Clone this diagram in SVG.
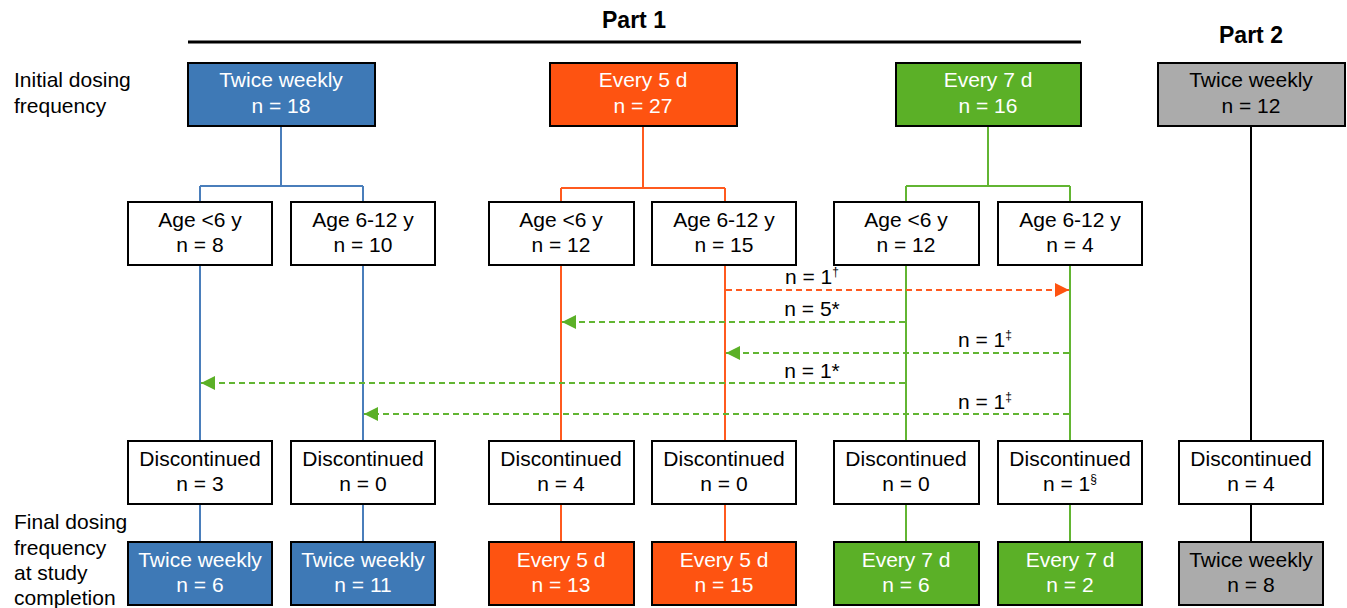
<svg xmlns="http://www.w3.org/2000/svg" width="1347" height="608" viewBox="0 0 1347 608">
<defs>
<style>
text{font-family:"Liberation Sans",Arial,sans-serif;font-size:21px;fill:#000}
.c{text-anchor:middle}
.w{fill:#fff}
.b{font-weight:bold;font-size:23px}
.box{stroke:#000;stroke-width:2}
.wb{fill:#fff}
.blue{fill:#3E79B6}
.orange{fill:#FE5311}
.green{fill:#5BB027}
.gray{fill:#ABABAB}
.lb{stroke:#4A7EBB;stroke-width:2;fill:none}
.lo{stroke:#FF5A1F;stroke-width:2;fill:none}
.lg{stroke:#62B532;stroke-width:2;fill:none}
.lk{stroke:#000;stroke-width:2;fill:none}
.do{stroke:#FF5A1F;stroke-width:2;stroke-dasharray:6 4;fill:none}
.dg{stroke:#62B532;stroke-width:2;stroke-dasharray:6 4;fill:none}
.sup{font-size:12px}
</style>
<marker id="ao" viewBox="0 0 10 10" refX="10" refY="5" markerWidth="7" markerHeight="7" orient="auto" markerUnits="strokeWidth"><path d="M0,0 L10,5 L0,10 z" fill="#FE5311"/></marker>
<marker id="ag" viewBox="0 0 10 10" refX="10" refY="5" markerWidth="7" markerHeight="7" orient="auto" markerUnits="strokeWidth"><path d="M0,0 L10,5 L0,10 z" fill="#5BB027"/></marker>
</defs>
<rect width="1347" height="608" fill="#fff"/>

<g id="headers">
<text class="c b" x="634" y="28">Part 1</text>
<line x1="188" y1="42" x2="1081" y2="42" stroke="#000" stroke-width="3"/>
<text class="c b" x="1251" y="43">Part 2</text>
<text x="14" y="87">Initial dosing</text>
<text x="14" y="113">frequency</text>
<text x="14" y="529">Final dosing</text>
<text x="14" y="555">frequency</text>
<text x="14" y="580">at study</text>
<text x="14" y="605">completion</text>
</g>

<g id="connectors">
<path class="lb" d="M281,126 V186 M200,186 H363 M200,186 V202 M363,186 V202 M200,265 V441 M363,265 V441 M200,504 V542 M363,504 V542"/>
<path class="lo" d="M643,126 V188 M561,188 H725 M561,188 V202 M725,188 V202 M561,265 V441 M725,265 V441 M561,504 V542 M725,504 V542"/>
<path class="lg" d="M988,126 V186 M906,186 H1070 M906,186 V202 M1070,186 V202 M906,265 V441 M1070,265 V441 M906,504 V542 M1070,504 V542"/>
<path class="lk" d="M1251,126 V441 M1251,504 V542"/>
<line class="do" x1="726" y1="290" x2="1069" y2="290" marker-end="url(#ao)"/>
<line class="dg" x1="905" y1="322" x2="562" y2="322" marker-end="url(#ag)"/>
<line class="dg" x1="1069" y1="353" x2="726" y2="353" marker-end="url(#ag)"/>
<line class="dg" x1="905" y1="383" x2="201" y2="383" marker-end="url(#ag)"/>
<line class="dg" x1="1069" y1="414" x2="364" y2="414" marker-end="url(#ag)"/>
<text class="c" x="812" y="284">n = 1<tspan class="sup" dy="-8">†</tspan></text>
<text class="c" x="812" y="316">n = 5*</text>
<text class="c" x="985" y="347">n = 1<tspan class="sup" dy="-8">‡</tspan></text>
<text class="c" x="812" y="378">n = 1*</text>
<text class="c" x="985" y="409">n = 1<tspan class="sup" dy="-8">‡</tspan></text>
</g>

<g id="top-tw"><rect class="box blue" x="188" y="63" width="187" height="63"/><text class="c w" x="281" y="87">Twice weekly</text><text class="c w" x="281" y="113">n = 18</text></g>
<g id="top-5d"><rect class="box orange" x="550" y="63" width="187" height="63"/><text class="c w" x="643" y="87">Every 5 d</text><text class="c w" x="643" y="113">n = 27</text></g>
<g id="top-7d"><rect class="box green" x="896" y="63" width="185" height="63"/><text class="c w" x="988" y="87">Every 7 d</text><text class="c w" x="988" y="113">n = 16</text></g>
<g id="top-p2"><rect class="box gray" x="1158" y="63" width="187" height="63"/><text class="c" x="1251" y="87">Twice weekly</text><text class="c" x="1251" y="113">n = 12</text></g>

<g id="age-b1"><rect class="box wb" x="128" y="202" width="144" height="63"/><text class="c" x="200" y="227">Age &lt;6 y</text><text class="c" x="200" y="252">n = 8</text></g>
<g id="age-b2"><rect class="box wb" x="291" y="202" width="144" height="63"/><text class="c" x="363" y="227">Age 6-12 y</text><text class="c" x="363" y="252">n = 10</text></g>
<g id="age-o1"><rect class="box wb" x="489" y="202" width="145" height="63"/><text class="c" x="561" y="227">Age &lt;6 y</text><text class="c" x="561" y="252">n = 12</text></g>
<g id="age-o2"><rect class="box wb" x="652" y="202" width="144" height="63"/><text class="c" x="724" y="227">Age 6-12 y</text><text class="c" x="724" y="252">n = 15</text></g>
<g id="age-g1"><rect class="box wb" x="834" y="202" width="145" height="63"/><text class="c" x="906" y="227">Age &lt;6 y</text><text class="c" x="906" y="252">n = 12</text></g>
<g id="age-g2"><rect class="box wb" x="998" y="202" width="144" height="63"/><text class="c" x="1070" y="227">Age 6-12 y</text><text class="c" x="1070" y="252">n = 4</text></g>

<g id="dis-b1"><rect class="box wb" x="128" y="441" width="144" height="63"/><text class="c" x="200" y="466">Discontinued</text><text class="c" x="200" y="491">n = 3</text></g>
<g id="dis-b2"><rect class="box wb" x="291" y="441" width="144" height="63"/><text class="c" x="363" y="466">Discontinued</text><text class="c" x="363" y="491">n = 0</text></g>
<g id="dis-o1"><rect class="box wb" x="489" y="441" width="145" height="63"/><text class="c" x="561" y="466">Discontinued</text><text class="c" x="561" y="491">n = 4</text></g>
<g id="dis-o2"><rect class="box wb" x="652" y="441" width="144" height="63"/><text class="c" x="724" y="466">Discontinued</text><text class="c" x="724" y="491">n = 0</text></g>
<g id="dis-g1"><rect class="box wb" x="834" y="441" width="145" height="63"/><text class="c" x="906" y="466">Discontinued</text><text class="c" x="906" y="491">n = 0</text></g>
<g id="dis-g2"><rect class="box wb" x="998" y="441" width="144" height="63"/><text class="c" x="1070" y="466">Discontinued</text><text class="c" x="1070" y="491">n = 1<tspan class="sup" dy="-8">§</tspan></text></g>
<g id="dis-p2"><rect class="box wb" x="1179" y="441" width="144" height="63"/><text class="c" x="1251" y="466">Discontinued</text><text class="c" x="1251" y="491">n = 4</text></g>

<g id="fin-b1"><rect class="box blue" x="128" y="542" width="144" height="63"/><text class="c w" x="200" y="567">Twice weekly</text><text class="c w" x="200" y="592">n = 6</text></g>
<g id="fin-b2"><rect class="box blue" x="291" y="542" width="144" height="63"/><text class="c w" x="363" y="567">Twice weekly</text><text class="c w" x="363" y="592">n = 11</text></g>
<g id="fin-o1"><rect class="box orange" x="489" y="542" width="145" height="63"/><text class="c w" x="561" y="567">Every 5 d</text><text class="c w" x="561" y="592">n = 13</text></g>
<g id="fin-o2"><rect class="box orange" x="652" y="542" width="144" height="63"/><text class="c w" x="724" y="567">Every 5 d</text><text class="c w" x="724" y="592">n = 15</text></g>
<g id="fin-g1"><rect class="box green" x="834" y="542" width="145" height="63"/><text class="c w" x="906" y="567">Every 7 d</text><text class="c w" x="906" y="592">n = 6</text></g>
<g id="fin-g2"><rect class="box green" x="998" y="542" width="144" height="63"/><text class="c w" x="1070" y="567">Every 7 d</text><text class="c w" x="1070" y="592">n = 2</text></g>
<g id="fin-p2"><rect class="box gray" x="1179" y="542" width="144" height="63"/><text class="c" x="1251" y="567">Twice weekly</text><text class="c" x="1251" y="592">n = 8</text></g>
</svg>
